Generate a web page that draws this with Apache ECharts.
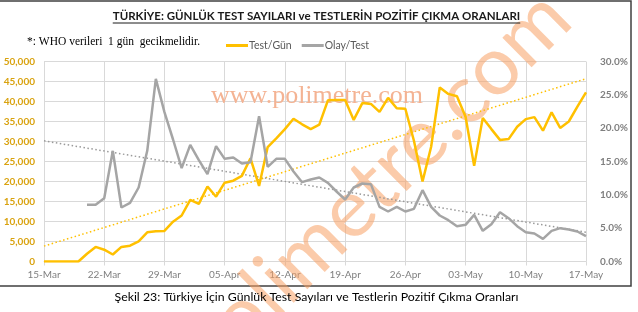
<!DOCTYPE html>
<html>
<head>
<meta charset="utf-8">
<script src="https://cdn.jsdelivr.net/npm/echarts@6/dist/echarts.min.js"></script>
<style>
html,body{margin:0;padding:0;background:#fff;}
#chart{width:638px;height:312px;}
</style>
</head>
<body>
<div id="chart"></div>
<script>
// ---- data ----
const dates = ['15-Mar','16-Mar','17-Mar','18-Mar','19-Mar','20-Mar','21-Mar','22-Mar','23-Mar','24-Mar',
  '25-Mar','26-Mar','27-Mar','28-Mar','29-Mar','30-Mar','31-Mar','01-Apr','02-Apr','03-Apr',
  '04-Apr','05-Apr','06-Apr','07-Apr','08-Apr','09-Apr','10-Apr','11-Apr','12-Apr','13-Apr',
  '14-Apr','15-Apr','16-Apr','17-Apr','18-Apr','19-Apr','20-Apr','21-Apr','22-Apr','23-Apr',
  '24-Apr','25-Apr','26-Apr','27-Apr','28-Apr','29-Apr','30-Apr','01-May','02-May','03-May',
  '04-May','05-May','06-May','07-May','08-May','09-May','10-May','11-May','12-May','13-May',
  '14-May','15-May','16-May','17-May'];

const testsPerDay = [0,0,0,0,0,1950,3650,2950,1750,3650,
  3950,5050,7300,7550,7650,9950,11500,15400,14400,18750,
  16200,19700,20200,21400,25800,18900,28600,30800,33100,35700,
  34300,33100,34200,40300,40400,40400,35400,39600,39400,37400,
  40900,38300,38200,30200,20000,28700,43500,41900,41300,36200,
  23900,35900,33100,30400,30600,33700,35600,36100,32700,37300,
  33400,35000,38700,42300];

const casesPerTest = [null,null,null,null,null,8.5,8.5,9.5,16.6,8.1,
  8.8,11.1,16.6,27.4,22.4,18.3,14.0,17.5,15.2,13.1,
  17.3,15.4,15.6,14.7,14.9,21.8,14.2,15.4,15.4,13.5,
  11.9,12.3,12.6,11.8,10.5,9.3,11.1,11.7,11.6,8.2,
  7.5,8.2,7.5,7.9,10.7,8.2,6.9,6.2,5.3,5.5,
  7.0,4.6,5.6,7.4,6.5,5.3,4.4,4.2,3.4,4.6,
  5.0,4.8,4.5,3.8];

// trendline end points (first and last day)
const testsTrend = [3850, 45700];
const rateTrend = [18.1, 4.4];

const leftTicks = {min: 0, max: 50000, interval: 5000};
const rightTicks = {min: 0, max: 30, interval: 5};

const titleText = 'TÜRKİYE: GÜNLÜK TEST SAYILARI ve TESTLERİN POZİTİF ÇIKMA ORANLARI';
const noteText = '*: WHO verileri  1 gün  gecikmelidir.';
const captionText = 'Şekil 23: Türkiye İçin Günlük Test Sayıları ve Testlerin Pozitif Çıkma Oranları';
const seriesNames = ['Test/Gün', 'Olay/Test'];

// ---- rendering ----
function textWidth(str, font) {
  const c = document.createElement('canvas').getContext('2d');
  c.font = font;
  return c.measureText(str).width;
}
const titleFont = 'bold 11.5px Lato';
const titleW = textWidth(titleText, titleFont);
const titleCx = 316.5, titleY = 16;

const chart = echarts.init(document.getElementById('chart'), null, {renderer: 'canvas'});
const grid = '#D9D9D9';
const orange = '#FFC000';
const gray = '#A5A5A5';

const option = {
  animation: false,
  backgroundColor: '#fff',
  textStyle: {fontFamily: 'Lato'},
  grid: {left: 44, right: 52, top: 61.5, bottom: 50.5, containLabel: false},
  legend: {
    data: seriesNames,
    left: 221, top: 35,
    icon: 'rect', itemWidth: 22, itemHeight: 3, itemGap: 10,
    textStyle: {fontSize: 10.5, color: '#595959', fontFamily: 'Lato', padding: [0, 0, 0, -4]}
  },
  xAxis: {
    type: 'category', data: dates, boundaryGap: false,
    axisLine: {lineStyle: {color: grid, width: 1}},
    axisTick: {show: true, interval: 6, length: 4, lineStyle: {color: grid}},
    axisLabel: {interval: 6, margin: 8, fontSize: 10, color: '#7F7F7F', fontFamily: 'Lato'},
    splitLine: {show: true, interval: 6, lineStyle: {color: grid, width: 1}}
  },
  yAxis: [{
    type: 'value', min: leftTicks.min, max: leftTicks.max, interval: leftTicks.interval,
    axisLine: {show: false}, axisTick: {show: false},
    axisLabel: {margin: 9, fontSize: 10, color: '#D9A20E', fontWeight: 'bold', fontFamily: 'Lato',
      formatter: v => v.toLocaleString('en-US')},
    splitLine: {lineStyle: {color: grid, width: 1}}
  }, {
    type: 'value', min: rightTicks.min, max: rightTicks.max, interval: rightTicks.interval,
    axisLine: {show: false}, axisTick: {show: false},
    axisLabel: {margin: 14, fontSize: 10, color: '#7F7F7F', fontWeight: 'bold', fontFamily: 'Lato',
      formatter: v => v.toFixed(1) + '%'},
    splitLine: {show: false}
  }],
  series: [{
    name: 'trendTests', type: 'line', yAxisIndex: 0, silent: true, showSymbol: false,
    data: [[dates[0], testsTrend[0]], [dates[dates.length - 1], testsTrend[1]]],
    lineStyle: {color: orange, width: 1.5, type: [1.5, 2.5]}, z: 2
  }, {
    name: 'trendRate', type: 'line', yAxisIndex: 1, silent: true, showSymbol: false,
    data: [[dates[0], rateTrend[0]], [dates[dates.length - 1], rateTrend[1]]],
    lineStyle: {color: '#999999', width: 1.5, type: [1.5, 2.5]}, z: 2
  }, {
    name: seriesNames[0], type: 'line', yAxisIndex: 0, data: testsPerDay,
    showSymbol: false, symbol: 'none', color: orange,
    lineStyle: {color: orange, width: 2.5}, z: 3
  }, {
    name: seriesNames[1], type: 'line', yAxisIndex: 1, data: casesPerTest,
    showSymbol: false, symbol: 'none', color: gray, connectNulls: false,
    lineStyle: {color: gray, width: 2.5}, z: 4
  }],
  graphic: [
    {type: 'rect', shape: {x: -3, y: 1, width: 634, height: 285}, style: {fill: null, stroke: '#404040', lineWidth: 1.5}, z: 0, silent: true},
    {type: 'text', x: titleCx, y: titleY, style: {text: titleText, font: titleFont, fill: '#1a1a1a', textAlign: 'center', textVerticalAlign: 'middle'}, z: 10},
    {type: 'line', shape: {x1: titleCx - titleW / 2, y1: titleY + 7, x2: titleCx + titleW / 2, y2: titleY + 7}, style: {stroke: '#1a1a1a', lineWidth: 1}, z: 10},
    {type: 'text', x: 27, y: 42, style: {text: noteText, font: '11.5px "Liberation Serif"', fill: '#000', textAlign: 'left', textVerticalAlign: 'middle'}, z: 10},
    {type: 'text', x: 316.5, y: 297, style: {text: captionText, font: '12.3px Lato', fill: '#000', textAlign: 'center', textVerticalAlign: 'middle'}, z: 10},
    {type: 'text', x: 211, y: 96, style: {text: 'www.polimetre.com', font: '26px "Liberation Serif"', fill: '#F4B393', textAlign: 'left', textVerticalAlign: 'middle'}, z: 1, silent: true},
    {type: 'text', x: 374, y: 186, rotation: 0.78, style: {text: 'polimetre.com', font: '82px Lato', fill: 'rgba(247,160,100,0.55)', textAlign: 'center', textVerticalAlign: 'middle'}, z: 1, silent: true}
  ]
};
chart.setOption(option);
</script>
</body>
</html>
